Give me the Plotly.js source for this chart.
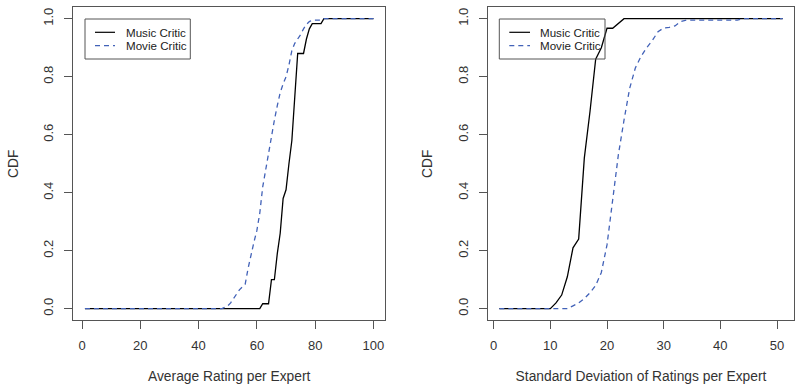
<!DOCTYPE html>
<html>
<head>
<meta charset="utf-8">
<script src="https://cdn.plot.ly/plotly-3.0.1.min.js"></script>
<style>html,body{margin:0;padding:0;background:#fff}#chart{width:795px;height:391px}</style>
</head>
<body>
<div id="chart"></div>
<script>
// ---- Data ----
const seriesNames = ["Music Critic", "Movie Critic"];

// Left panel: CDF of average rating per expert
const avgMusicX = [1, 61, 62, 64, 65, 66, 67, 68, 69, 70, 71, 72, 73, 74, 76, 77, 78, 79, 82, 83, 100];
const avgMusicY = [0, 0, 0.017, 0.017, 0.10, 0.10, 0.19, 0.26, 0.38, 0.41, 0.50, 0.58, 0.73, 0.88, 0.88, 0.93, 0.965, 0.983, 0.983, 1, 1];
const avgMovieX = [1, 48, 49, 50, 51, 52, 53, 54, 55, 56, 57, 58, 59, 60, 61, 62, 63, 64, 65, 66, 67, 68, 69, 70, 71, 72, 73, 74, 75, 76, 77, 78, 79, 82, 83, 100];
const avgMovieY = [0, 0, 0.005, 0.01, 0.02, 0.035, 0.05, 0.065, 0.075, 0.085, 0.14, 0.19, 0.23, 0.27, 0.33, 0.42, 0.48, 0.54, 0.60, 0.65, 0.70, 0.745, 0.775, 0.80, 0.84, 0.89, 0.915, 0.93, 0.945, 0.965, 0.98, 0.99, 0.995, 0.995, 1, 1];

// Right panel: CDF of standard deviation of ratings per expert
const sdMusicX = [1, 10, 11, 12, 13, 14, 15, 16, 17, 18, 19, 20, 21, 22, 23, 51];
const sdMusicY = [0, 0, 0.02, 0.047, 0.11, 0.21, 0.24, 0.52, 0.68, 0.86, 0.90, 0.967, 0.967, 0.983, 1, 1];
const sdMovieX = [1, 13, 14, 15, 16, 17, 18, 19, 20, 21, 22, 23, 24, 25, 26, 27, 28, 29, 30, 31, 32, 33, 34, 43, 44, 51];
const sdMovieY = [0, 0, 0.01, 0.02, 0.035, 0.055, 0.08, 0.125, 0.22, 0.375, 0.53, 0.65, 0.76, 0.83, 0.87, 0.90, 0.925, 0.955, 0.968, 0.97, 0.975, 0.99, 0.995, 0.995, 1, 1];

const xTicksLeft = [0, 20, 40, 60, 80, 100];
const xTicksRight = [0, 10, 20, 30, 40, 50];
const yTicks = [0, 0.2, 0.4, 0.6, 0.8, 1.0];
const xTitleLeft = "Average Rating per Expert";
const xTitleRight = "Standard Deviation of Ratings per Expert";
const yTitle = "CDF";

// ---- Styling ----
const W = 795, H = 391;
const FONT = "Liberation Sans, Arial, Helvetica, sans-serif";
const TXT = "#333";
const AX = "#555";
const BLACK = "#000";
const BLUE = "#4262b8";
const px = v => v / W;
const py = v => 1 - v / H;

const musicLine = {color: BLACK, width: 1.3};
const movieLine = {color: BLUE, width: 1.3, dash: "5px,4px"};

const traces = [
  {x: avgMusicX, y: avgMusicY, type: "scatter", mode: "lines", name: seriesNames[0], line: musicLine, xaxis: "x", yaxis: "y", showlegend: false},
  {x: avgMovieX, y: avgMovieY, type: "scatter", mode: "lines", name: seriesNames[1], line: movieLine, xaxis: "x", yaxis: "y", showlegend: false},
  {x: sdMusicX, y: sdMusicY, type: "scatter", mode: "lines", name: seriesNames[0], line: musicLine, xaxis: "x2", yaxis: "y2", showlegend: false},
  {x: sdMovieX, y: sdMovieY, type: "scatter", mode: "lines", name: seriesNames[1], line: movieLine, xaxis: "x2", yaxis: "y2", showlegend: false}
];

const baseAxis = {
  showline: true, mirror: true, linecolor: AX, linewidth: 1,
  ticks: "outside", ticklen: 8, tickcolor: AX, tickwidth: 1,
  showgrid: false, zeroline: false,
  tickfont: {family: FONT, size: 13, color: TXT},
  fixedrange: true
};
const titleFont = {family: FONT, size: 13.8, color: TXT};
const yDomain = [py(320.3), py(7.1)];

const layout = {
  width: W, height: H,
  margin: {l: 0, r: 0, t: 0, b: 0},
  paper_bgcolor: "#fff", plot_bgcolor: "#fff",
  showlegend: false,
  font: {family: FONT, color: TXT},
  xaxis: Object.assign({}, baseAxis, {
    domain: [px(73.4), px(385)], range: [-2.96, 103.96], tickvals: xTicksLeft, ticktext: xTicksLeft.map(String),
    anchor: "y", ticklabelstandoff: 5,
    title: {text: xTitleLeft, font: titleFont, standoff: 19}
  }),
  yaxis: Object.assign({}, baseAxis, {
    domain: yDomain, range: [-0.04, 1.04], tickvals: yTicks, ticktext: yTicks.map(v => v.toFixed(1)),
    tickangle: -90, anchor: "x", ticklabelstandoff: 6,
    title: {text: yTitle, font: titleFont, standoff: 19}
  }),
  xaxis2: Object.assign({}, baseAxis, {
    domain: [px(488), px(794)], range: [-1, 53], tickvals: xTicksRight, ticktext: xTicksRight.map(String),
    anchor: "y2", ticklabelstandoff: 5,
    title: {text: xTitleRight, font: titleFont, standoff: 19}
  }),
  yaxis2: Object.assign({}, baseAxis, {
    domain: yDomain, range: [-0.04, 1.04], tickvals: yTicks, ticktext: yTicks.map(v => v.toFixed(1)),
    tickangle: -90, anchor: "x2", ticklabelstandoff: 6,
    title: {text: yTitle, font: titleFont, standoff: 19}
  }),
  shapes: [],
  annotations: []
};

// Manual R-style legends (box, line samples, labels)
function addLegend(x0, x1, sx0, sx1, tx) {
  layout.shapes.push({type: "rect", xref: "paper", yref: "paper", x0: px(x0), x1: px(x1), y0: py(59), y1: py(19), line: {color: AX, width: 1}, fillcolor: "rgba(0,0,0,0)"});
  layout.shapes.push({type: "line", xref: "paper", yref: "paper", x0: px(sx0), x1: px(sx1), y0: py(32.3), y1: py(32.3), line: {color: BLACK, width: 1.2}});
  layout.shapes.push({type: "line", xref: "paper", yref: "paper", x0: px(sx0), x1: px(sx1), y0: py(45.7), y1: py(45.7), line: {color: BLUE, width: 1.2, dash: "5px,4px"}});
  [[seriesNames[0], 32.3], [seriesNames[1], 45.7]].forEach(([t, y]) => {
    layout.annotations.push({text: t, xref: "paper", yref: "paper", x: px(tx), y: py(y), xanchor: "left", yanchor: "middle", showarrow: false, borderpad: 0, font: {family: FONT, size: 11.6, color: "#222"}});
  });
}
addLegend(85, 190.3, 95, 115, 124.5);
addLegend(499.3, 605, 509.3, 530, 539.3);

Plotly.newPlot("chart", traces, layout, {staticPlot: true, displayModeBar: false});
</script>
</body>
</html>
